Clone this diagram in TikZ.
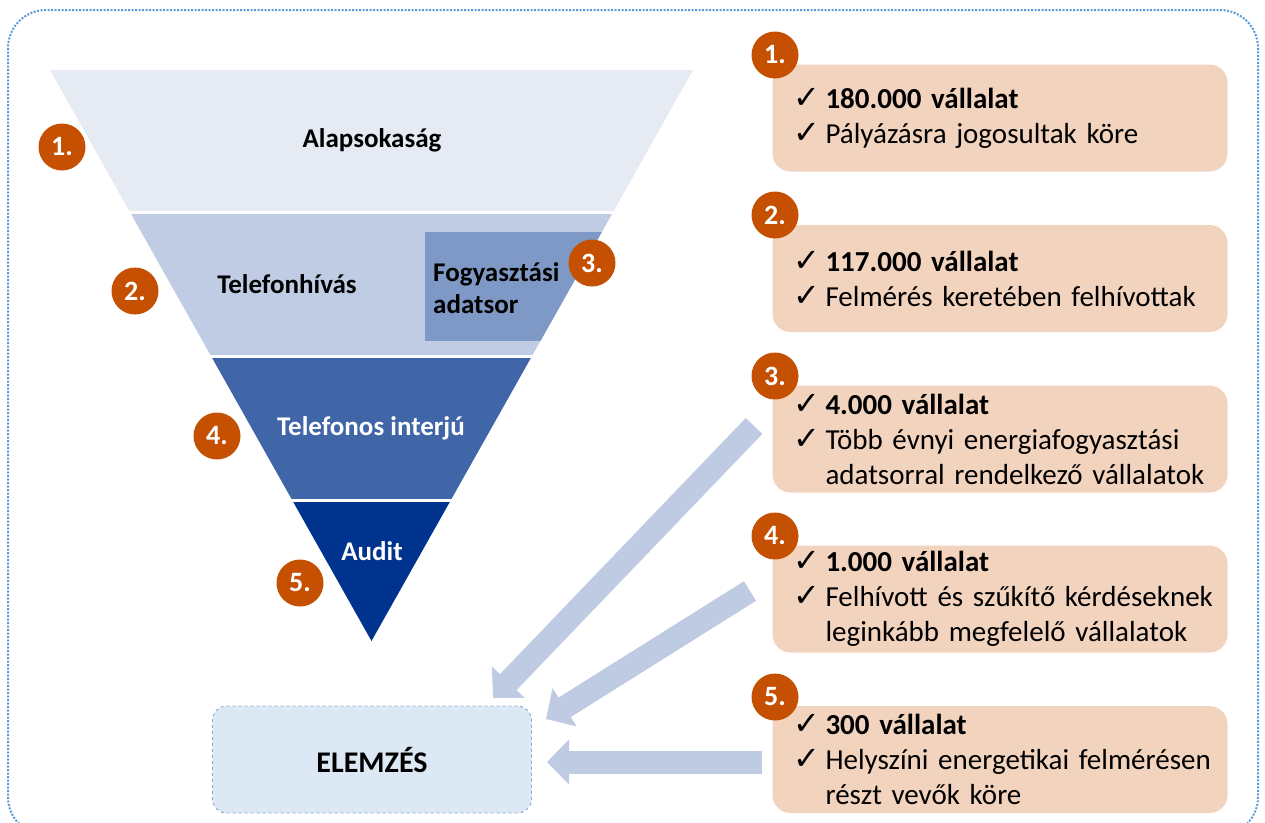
\documentclass[tikz,border=0pt]{standalone}
\usepackage{fontspec}
\setmainfont{Carlito}
\newfontfamily\symfont{DejaVu Sans}
\usetikzlibrary{arrows.meta,calc}
\definecolor{segA}{RGB}{229,234,243}
\definecolor{segB}{RGB}{192,204,228}
\definecolor{segF}{RGB}{127,153,199}
\definecolor{segC}{RGB}{65,102,168}
\definecolor{segD}{RGB}{0,51,141}
\definecolor{numorange}{RGB}{197,80,2}
\definecolor{boxpeach}{RGB}{242,211,190}
\definecolor{arrowblue}{RGB}{191,203,226}
\definecolor{elemfill}{RGB}{221,232,245}
\definecolor{dashblue}{RGB}{143,165,208}
\definecolor{outerblue}{RGB}{91,155,213}
\newcommand\chk{\makebox[34pt][l]{\hspace{2pt}\symfont\fontsize{32}{35}\selectfont ✓}}
\newcommand\cont{\hspace*{34pt}}
\begin{document}
\begin{tikzpicture}[x=1pt,y=-1pt,
  seglabel/.style={font=\bfseries\fontsize{27}{29}\selectfont, inner sep=0pt},
  num/.style={circle, fill=numorange, minimum size=47pt, inner sep=0pt, text=white, font=\bfseries\fontsize{28}{28}\selectfont},
  infobox/.style={rectangle, rounded corners=18pt, fill=boxpeach, minimum width=455pt, minimum height=107pt, text width=417pt, inner xsep=19pt, inner ysep=0pt, align=left, font=\fontsize{29}{35}\selectfont},
  bigarrow/.style={draw=arrowblue, line width=23pt, line cap=butt, -{Triangle[length=22pt,width=44pt]}},
  gap/.style={draw=white, line width=3pt},
]
\useasboundingbox (0,0) rectangle (1265,822);
% outer dotted frame
\begin{scope}
\clip (0,0) rectangle (1265,822);
\draw[outerblue, line width=2pt, dash pattern=on 2pt off 1.5pt, rounded corners=38pt] (8,10) rectangle (1258,835);
\end{scope}
% funnel
\fill[segA] (50,70) -- (693,70) -- (613.1,212) -- (129.9,212) -- cycle;
\fill[segB] (129.9,212) -- (613.1,212) -- (532,356) -- (211,356) -- cycle;
\begin{scope}
\clip (129.9,212) -- (613.1,212) -- (532,356) -- (211,356) -- cycle;
\fill[segF] (425,232) rectangle (700,341);
\end{scope}
\fill[segC] (211,356) -- (532,356) -- (450.9,500) -- (292.1,500) -- cycle;
\fill[segD] (292.1,500) -- (450.9,500) -- (371.5,641) -- cycle;
\draw[gap] (125,212) -- (618,212);
\draw[gap] (205,356) -- (538,356);
\draw[gap] (286,500) -- (457,500);
% funnel labels
\node[seglabel] (alap) at (372,140) {Alapsokaság};
\node[seglabel] (tel) at (287,284) {Telefonhívás};
\node[seglabel, anchor=west, align=left, font=\bfseries\fontsize{27}{32}\selectfont] (fogy) at (433,288) {Fogyasztási\\adatsor};
\node[seglabel, text=white] (intj) at (371,428) {Telefonos interjú};
\node[seglabel, text=white] (aud) at (372,551) {Audit};
% funnel numbers
\node[num] (n1) at (62,147) {1.};
\node[num] (n2) at (135,291) {2.};
\node[num] (n3) at (592,263) {3.};
\node[num] (n4) at (217,436) {4.};
\node[num] (n5) at (300,583) {5.};
% analysis box
\node[draw=dashblue, dashed, line width=0.9pt, fill=elemfill, rounded corners=14pt, minimum width=319pt, minimum height=107pt, font=\bfseries\fontsize{30}{32}\selectfont] (elem) at (372,759.5) {ELEMZÉS};
% arrows
\coordinate (t3) at (754,426);
\coordinate (h3) at (493,698);
\coordinate (t4) at (750,591);
\coordinate (h4) at (546,719);
\coordinate (t5) at (762,762);
\coordinate (h5) at (547,762);
\draw[bigarrow] (t3) -- (h3);
\draw[bigarrow] (t4) -- (h4);
\draw[bigarrow] (t5) -- (h5);
% right boxes
\node[infobox] (b1) at (1000,118) {\mbox{\chk\textbf{180.000 vállalat}}\\\mbox{\chk Pályázásra jogosultak köre}};
\node[infobox] (b2) at (1000,278.5) {\mbox{\chk\textbf{117.000 vállalat}}\\\mbox{\chk Felmérés keretében felhívottak}};
\node[infobox] (b3) at (1000,439) {\mbox{\chk\textbf{4.000 vállalat}}\\\mbox{\chk Több évnyi energiafogyasztási}\\\mbox{\cont adatsorral rendelkező vállalatok}};
\node[infobox] (b4) at (1000,599) {\mbox{\chk\textbf{1.000 vállalat}}\\\mbox{\chk Felhívott és szűkítő kérdéseknek}\\\mbox{\cont leginkább megfelelő vállalatok}};
\node[infobox] (b5) at (1000,759.5) {\mbox{\chk\textbf{300 vállalat}}\\\mbox{\chk Helyszíni energetikai felmérésen}\\\mbox{\cont részt vevők köre}};
\node[num] (r1) at (775,55) {1.};
\node[num] (r2) at (775,215) {2.};
\node[num] (r3) at (775,376) {3.};
\node[num] (r4) at (775,536) {4.};
\node[num] (r5) at (775,697) {5.};
\end{tikzpicture}
\end{document}
